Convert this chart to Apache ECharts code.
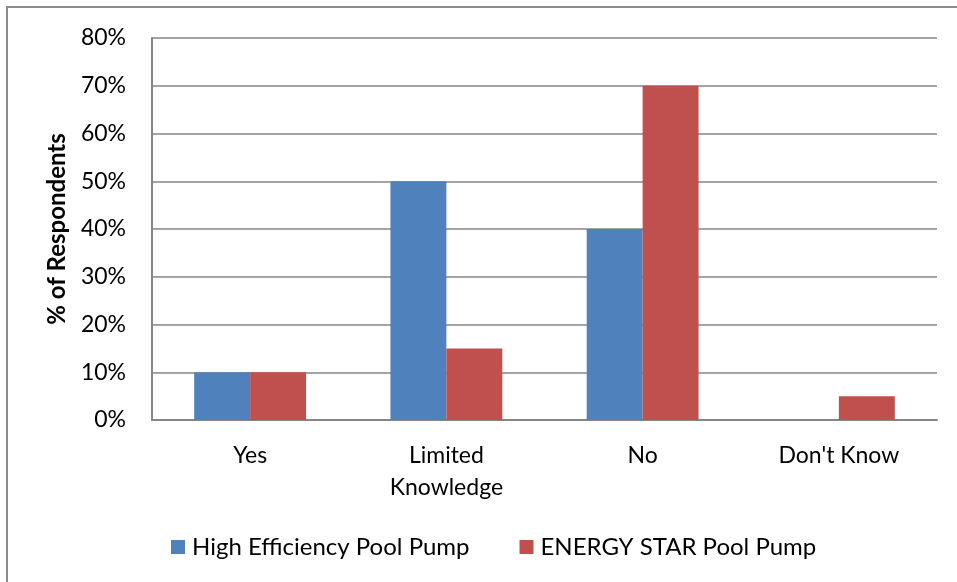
<!DOCTYPE html>
<html>
<head>
<meta charset="utf-8">
<script src="https://cdn.jsdelivr.net/npm/echarts@6/dist/echarts.min.js"></script>
<style>
  html, body { margin: 0; padding: 0; background: #fff; }
  #chart { width: 957px; height: 582px; }
</style>
</head>
<body>
<div id="chart"></div>
<script>
var categories = ["Yes", "Limited\nKnowledge", "No", "Don't Know"];
var highEfficiency = [10, 50, 40, 0];
var energyStar = [10, 15, 70, 5];
var seriesNames = ["High Efficiency Pool Pump", "ENERGY STAR Pool Pump"];

var font = "Lato, 'Open Sans', sans-serif";
var myChart = echarts.init(document.getElementById("chart"));
myChart.setOption({
  animation: false,
  textStyle: { fontFamily: font },
  graphic: [{
    type: "rect",
    shape: { x: 7, y: 7, width: 970, height: 600 },
    style: { fill: "none", stroke: "#8c8c8c", lineWidth: 2 }
  }],
  grid: {
    left: 152, right: 20, top: 38, bottom: 162,
    outerBoundsMode: "none"
  },
  legend: {
    top: 530,
    left: 166,
    itemWidth: 14,
    itemHeight: 14,
    itemGap: 50,
    icon: "rect",
    textStyle: { fontSize: 24, color: "#000", fontFamily: font, padding: [0, 0, 0, 2] },
    data: seriesNames
  },
  xAxis: {
    type: "category",
    data: categories,
    axisLine: { lineStyle: { color: "#868686", width: 2 } },
    axisTick: { show: false },
    axisLabel: { color: "#000", fontSize: 23, margin: 20, lineHeight: 32, fontFamily: font }
  },
  yAxis: {
    type: "value",
    min: 0, max: 80, interval: 10,
    name: "% of Respondents",
    nameLocation: "middle",
    nameGap: 83,
    nameTextStyle: { fontSize: 24, fontWeight: "bold", color: "#000", fontFamily: font },
    axisLine: { show: true, lineStyle: { color: "#868686", width: 2 } },
    axisTick: { show: false },
    splitLine: { lineStyle: { color: "#868686", width: 1.5 } },
    axisLabel: { formatter: "{value}%", color: "#000", fontSize: 23, margin: 26, fontFamily: font }
  },
  series: [
    {
      name: seriesNames[0],
      type: "bar",
      data: highEfficiency,
      barGap: "0%",
      barCategoryGap: "43%",
      itemStyle: { color: "#4F81BD" }
    },
    {
      name: seriesNames[1],
      type: "bar",
      data: energyStar,
      barGap: "0%",
      barCategoryGap: "43%",
      itemStyle: { color: "#C0504D" }
    }
  ]
});
</script>
</body>
</html>
